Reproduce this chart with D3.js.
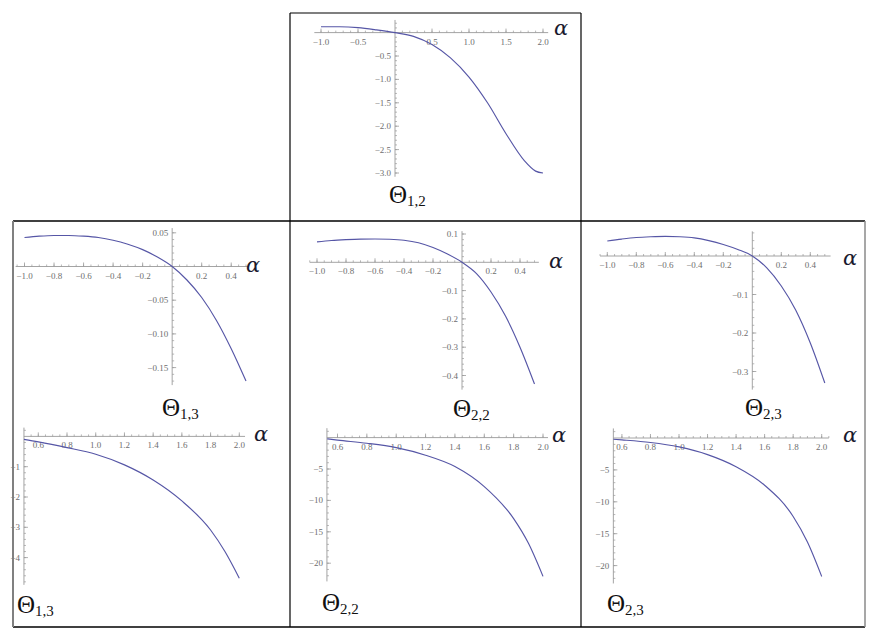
<!DOCTYPE html>
<html><head><meta charset="utf-8">
<script src="https://cdn.jsdelivr.net/npm/d3@7"></script>
<style>body{margin:0;background:#fff}svg{display:block}</style>
</head><body>
<script>
// ---- data ----
const theta12X = [-1, -0.75, -0.5, -0.25, 0, 0.25, 0.5, 0.75, 1.0, 1.25, 1.5, 1.75, 1.9, 2.0];
const theta12Y = [0.125, 0.124, 0.105, 0.058, 0, -0.08, -0.255, -0.54, -0.95, -1.5, -2.16, -2.74, -2.96, -3.0];

const theta13aX = [-1, -0.9, -0.8, -0.7, -0.6, -0.5, -0.4, -0.3, -0.2, -0.1, 0, 0.1, 0.2, 0.3, 0.4, 0.5];
const theta13aY = [0.043, 0.045, 0.046, 0.046, 0.045, 0.043, 0.039, 0.033, 0.025, 0.014, 0, -0.02, -0.046, -0.08, -0.122, -0.17];

const theta22aX = [-1, -0.9, -0.8, -0.7, -0.6, -0.5, -0.4, -0.3, -0.2, -0.1, 0, 0.1, 0.2, 0.3, 0.4, 0.5];
const theta22aY = [0.072, 0.077, 0.080, 0.082, 0.0825, 0.0815, 0.078, 0.069, 0.052, 0.029, 0, -0.04, -0.105, -0.19, -0.30, -0.43];

const theta23aX = [-1, -0.9, -0.8, -0.7, -0.6, -0.5, -0.4, -0.3, -0.2, -0.1, 0, 0.1, 0.2, 0.3, 0.4, 0.5];
const theta23aY = [0.039, 0.044, 0.048, 0.050, 0.051, 0.050, 0.047, 0.040, 0.030, 0.017, 0, -0.031, -0.078, -0.141, -0.226, -0.33];

const theta13bX = [0.5, 0.6, 0.8, 1.0, 1.2, 1.4, 1.6, 1.8, 1.9, 2.0];
const theta13bY = [-0.1, -0.18, -0.37, -0.59, -0.94, -1.44, -2.13, -3.09, -3.8, -4.68];

const theta22bX = [0.53, 0.6, 0.8, 1.0, 1.2, 1.4, 1.6, 1.8, 1.9, 2.0];
const theta22bY = [-0.2, -0.4, -0.9, -1.6, -2.8, -4.6, -7.8, -12.9, -16.8, -22.1];

const theta23bX = [0.54, 0.6, 0.8, 1.0, 1.2, 1.4, 1.6, 1.8, 1.9, 2.0];
const theta23bY = [-0.2, -0.3, -0.7, -1.4, -2.6, -4.5, -7.4, -12.3, -16.3, -21.7];

// tick labels
const xTicksTop = [-1.0, -0.5, 0.5, 1.0, 1.5, 2.0];
const yTicksTop = [-0.5, -1.0, -1.5, -2.0, -2.5, -3.0];
const xTicksMid = [-1.0, -0.8, -0.6, -0.4, -0.2, 0.2, 0.4];
const yTicks13a = [0.05, -0.05, -0.10, -0.15];
const yTicks22a = [0.1, -0.1, -0.2, -0.3, -0.4];
const yTicks23a = [-0.1, -0.2, -0.3];
const xTicksLow = [0.6, 0.8, 1.0, 1.2, 1.4, 1.6, 1.8, 2.0];
const yTicks13b = [-1, -2, -3, -4];
const yTicks22b = [-5, -10, -15, -20];
const yTicks23b = [-5, -10, -15, -20];

// ---- layout ----
const W = 872, H = 636;
const svg = d3.select("body").append("svg").attr("width", W).attr("height", H);

const panels = [
  {xs: theta12X, ys: theta12Y, xd:[-1,2], xr:[321,543], yd:[0,-3], yr:[32.6,173], xExt:[-1.09,2.07], yExt:[-3.08,0.27], yAxisAt:0,
   xt: xTicksTop, yt: yTicksTop, xf:".1f", yf:".1f", xMinor:0.1, yMinor:0.1, alpha:[554,35], theta:[389,203], sub:"1,2"},
  {xs: theta13aX, ys: theta13aY, xd:[-1,0.5], xr:[24.5,246], yd:[0,-0.15], yr:[266.5,367.6], xExt:[-1.06,0.52], yExt:[-0.176,0.057], yAxisAt:0,
   xt: xTicksMid, yt: yTicks13a, xf:".1f", yf:".2f", xMinor:0.05, yMinor:0.01, alpha:[246,272], theta:[162,416], sub:"1,3"},
  {xs: theta22aX, ys: theta22aY, xd:[-1,0.5], xr:[317,534.5], yd:[0,-0.4], yr:[262.3,375.5], xExt:[-1.05,0.53], yExt:[-0.45,0.11], yAxisAt:0,
   xt: xTicksMid, yt: yTicks22a, xf:".1f", yf:".1f", xMinor:0.05, yMinor:0.02, alpha:[549,268], theta:[453,417], sub:"2,2"},
  {xs: theta23aX, ys: theta23aY, xd:[-1,0.5], xr:[607.3,824.8], yd:[0,-0.3], yr:[256,371.5], xExt:[-1.05,0.54], yExt:[-0.347,0.064], yAxisAt:0,
   xt: xTicksMid, yt: yTicks23a, xf:".1f", yf:".1f", xMinor:0.05, yMinor:0.02, alpha:[843,265], theta:[745,416], sub:"2,3"},
  {xs: theta13bX, ys: theta13bY, xd:[0.6,2], xr:[38.3,239.3], yd:[0,-4], yr:[436.4,557.6], xExt:[0.5,2.04], yExt:[-4.9,0.29], yAxisAt:0.5,
   xt: xTicksLow, yt: yTicks13b, xf:".1f", yf:"d", xMinor:0.05, yMinor:0.2, alpha:[254,441], theta:[17,613], sub:"1,3"},
  {xs: theta22bX, ys: theta22bY, xd:[0.6,2], xr:[337.5,543], yd:[0,-20], yr:[437.6,563.2], xExt:[0.528,2.034], yExt:[-22.9,1.5], yAxisAt:0.528,
   xt: xTicksLow, yt: yTicks22b, xf:".1f", yf:"d", xMinor:0.05, yMinor:1, alpha:[552,442], theta:[322,611], sub:"2,2"},
  {xs: theta23bX, ys: theta23bY, xd:[1,2], xr:[679,821.7], yd:[0,-20], yr:[438,565.6], xExt:[0.54,2.05], yExt:[-22.8,1.5], yAxisAt:0.54,
   xt: xTicksLow, yt: yTicks23b, xf:".1f", yf:"d", xMinor:0.05, yMinor:1, alpha:[843,442], theta:[607,612], sub:"2,3"}
];

const axisCol = "#9a9a9a", labCol = "#6e6e6e", curveCol = "#5656a6";
const minus = s => s.replace("-", "\u2212");

panels.forEach(p => {
  const x = d3.scaleLinear().domain(p.xd).range(p.xr);
  const y = d3.scaleLinear().domain(p.yd).range(p.yr);
  const g = svg.append("g");
  const x0 = x(p.yAxisAt), y0 = y(0);
  g.append("line").attr("x1", x(p.xExt[0])).attr("x2", x(p.xExt[1])).attr("y1", y0).attr("y2", y0)
    .attr("stroke", axisCol).attr("stroke-width", 0.9);
  g.append("line").attr("x1", x0).attr("x2", x0).attr("y1", y(p.yExt[0])).attr("y2", y(p.yExt[1]))
    .attr("stroke", axisCol).attr("stroke-width", 0.9);
  const eps = 1e-6;
  const xmin = d3.range(Math.ceil(p.xExt[0]/p.xMinor - eps), Math.floor(p.xExt[1]/p.xMinor + eps) + 1).map(k => k*p.xMinor)
    .filter(v => Math.abs(v - p.yAxisAt) > p.xMinor/2);
  g.selectAll(null).data(xmin).join("line")
    .attr("x1", d => x(d)).attr("x2", d => x(d)).attr("y1", y0).attr("y2", y0 - 2)
    .attr("stroke", axisCol).attr("stroke-width", 0.7);
  const ymin = d3.range(Math.ceil(p.yExt[0]/p.yMinor - eps), Math.floor(p.yExt[1]/p.yMinor + eps) + 1).map(k => k*p.yMinor)
    .filter(v => Math.abs(v) > p.yMinor/2);
  g.selectAll(null).data(ymin).join("line")
    .attr("x1", x0).attr("x2", x0 + 2).attr("y1", d => y(d)).attr("y2", d => y(d))
    .attr("stroke", axisCol).attr("stroke-width", 0.7);
  g.selectAll(null).data(p.xt).join("line")
    .attr("x1", d => x(d)).attr("x2", d => x(d)).attr("y1", y0).attr("y2", y0 - 4)
    .attr("stroke", axisCol).attr("stroke-width", 0.8);
  g.selectAll(null).data(p.yt).join("line")
    .attr("x1", x0).attr("x2", x0 + 4).attr("y1", d => y(d)).attr("y2", d => y(d))
    .attr("stroke", axisCol).attr("stroke-width", 0.8);
  const xfmt = d3.format(p.xf), yfmt = d3.format(p.yf);
  g.selectAll(null).data(p.xt).join("text")
    .attr("x", d => x(d)).attr("y", y0 + 12).attr("text-anchor", "middle")
    .attr("font-family", "Liberation Serif, serif").attr("font-size", 9).attr("fill", labCol)
    .text(d => minus(xfmt(d)));
  g.selectAll(null).data(p.yt).join("text")
    .attr("x", x0 - 4).attr("y", d => y(d) + 3).attr("text-anchor", "end")
    .attr("font-family", "Liberation Serif, serif").attr("font-size", 9).attr("fill", labCol)
    .text(d => minus(yfmt(d)));
  const pts = p.xs.map((v, i) => [v, p.ys[i]]);
  g.append("path").datum(pts)
    .attr("d", d3.line().x(d => x(d[0])).y(d => y(d[1])).curve(d3.curveMonotoneX))
    .attr("fill", "none").attr("stroke", curveCol).attr("stroke-width", 1.15);
  g.append("text").attr("x", p.alpha[0]).attr("y", p.alpha[1])
    .attr("font-family", "DejaVu Serif, serif").attr("font-style", "italic").attr("font-size", 21)
    .attr("fill", "#1a1a2e").text("\u03B1");
  const t = g.append("text").attr("x", p.theta[0]).attr("y", p.theta[1])
    .attr("font-family", "Liberation Serif, serif").attr("fill", "#111");
  t.append("tspan").attr("font-size", 25).text("\u0398");
  t.append("tspan").attr("font-size", 15).attr("dy", 3).text(p.sub);
});

// ---- frames ----
const fr = svg.append("g").attr("fill", "none");
const seg = (x1, y1, x2, y2, c, w) => fr.append("line").attr("x1", x1).attr("y1", y1).attr("x2", x2).attr("y2", y2)
  .attr("stroke", c).attr("stroke-width", w);
seg(290, 13, 581, 13, "#000", 1.2);
seg(290, 13, 290, 627, "#000", 1.2);
seg(581, 13, 581, 627, "#000", 1.2);
seg(13, 221, 865, 221, "#000", 1.3);
seg(13, 627, 865, 627, "#000", 1.3);
seg(13, 221, 13, 627, "#808080", 2);
seg(865, 221, 865, 627, "#8a8a8a", 1.5);
</script>
</body></html>
